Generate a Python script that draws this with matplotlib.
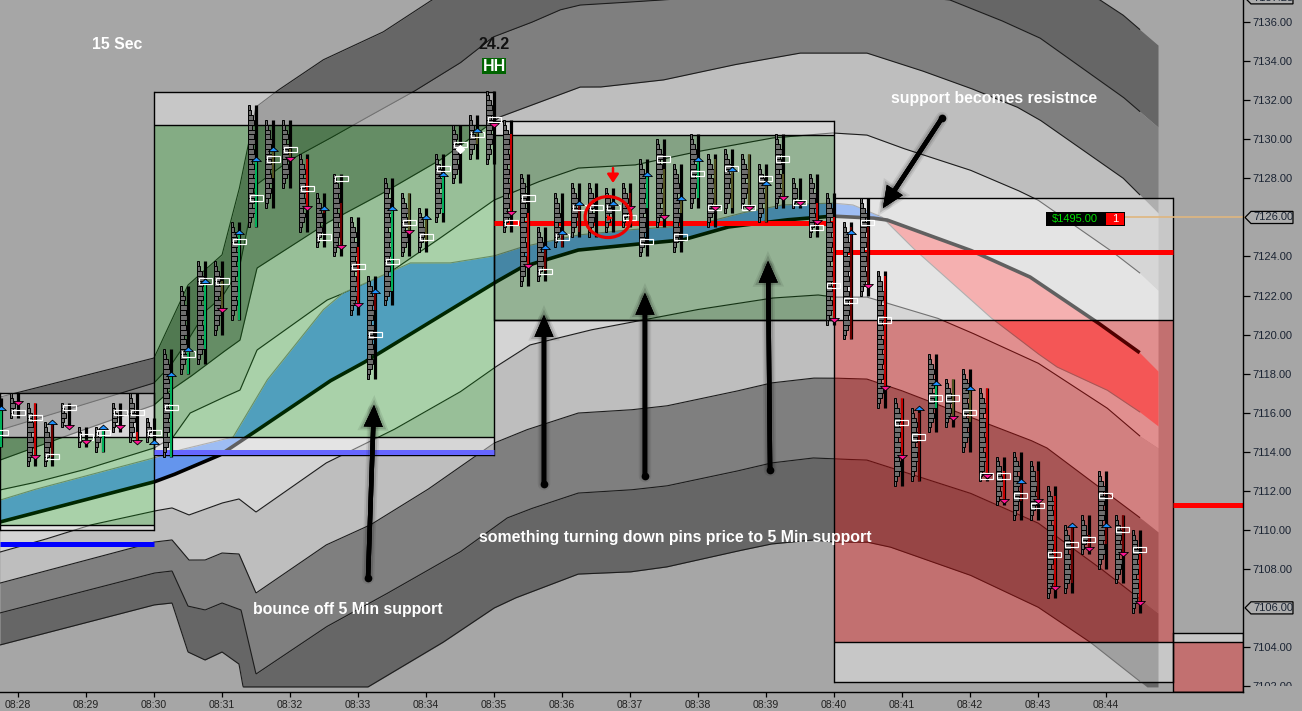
import numpy as np
import matplotlib
matplotlib.use("Agg")
import matplotlib.pyplot as plt
from matplotlib.patches import Rectangle, Ellipse, Polygon, FancyArrowPatch
from matplotlib.transforms import Bbox, TransformedBbox
import matplotlib.patheffects as pe

plt.rcParams['font.family'] = ['Liberation Sans', 'DejaVu Sans']

# ---------- band lines: bar index (15 s bars, 0 = 08:28:00) and price ----------
U1_T = [-1.06, 8, 10, 12, 13, 14, 15.24, 17.94, 21.47, 24.35, 28, 36, 48, 57.76, 63.65, 65, 67.06]
U1_P = [7116.80, 7118.80, 7122.54, 7124.08, 7127.41, 7131.66, 7132.48, 7134.07, 7135.50, 7137.14, 7138.27, 7140.2, 7139.96, 7139.19, 7137.14, 7136.37, 7134.83]
U2_T = [-1.06, 8, 9, 10, 11.1, 12, 13, 14, 16, 18.18, 19.94, 23.24, 26, 27.94, 30.12, 31.88, 33.06, 34.24, 37.94, 43.65, 50.12, 54.82, 57.76, 60.12, 65, 67.06]
U2_P = [7115.11, 7117.52, 7118.44, 7119.72, 7121.26, 7121.92, 7123.31, 7127.66, 7128.94, 7129.97, 7130.84, 7132.43, 7133.91, 7135.24, 7135.96, 7136.63, 7136.88, 7136.94, 7137.14, 7137.55, 7137.55, 7137.14, 7136.12, 7135.19, 7132.17, 7130.63]
U3_T = [-1.06, 2.65, 8, 9, 10.12, 12, 13.06, 14.06, 18.18, 21.47, 24.82, 28.35, 33.06, 34.24, 37.94, 42.06, 46, 49.94, 53.06, 56, 58.76, 60.12, 65, 67.06]
U3_P = [7113.57, 7114.75, 7116.39, 7117.16, 7117.83, 7119.06, 7119.72, 7123.41, 7125.72, 7127.25, 7128.94, 7131.15, 7132.68, 7132.68, 7133.04, 7133.81, 7134.42, 7134.42, 7133.55, 7132.63, 7131.66, 7130.99, 7128.02, 7126.23]
U4_T = [-1.06, 0.88, 3.82, 8, 9.12, 10.12, 12, 13.06, 14.06, 18.18, 21.47, 24.41, 28, 30.59, 32.94, 36.29, 39.82, 44.35, 47.88, 49.94, 52, 56, 58.76, 60, 64.24, 66, 67.06]
U4_P = [7112.04, 7112.40, 7113.06, 7114.19, 7114.75, 7115.98, 7116.75, 7117.16, 7119.21, 7121.77, 7122.95, 7124.69, 7126.89, 7127.82, 7128.53, 7128.69, 7129.35, 7130.07, 7130.33, 7130.22, 7129.56, 7128.43, 7127.41, 7126.89, 7124.33, 7123.15, 7122.28]
L5_T = [-1.06, 1.47, 4.24, 8, 9.06, 10.06, 12, 13, 14, 18.12, 22.06, 26, 28, 30.12, 33.65, 39.82, 44.35, 47.06, 48, 49.94, 54.06, 56, 60, 64.06, 66, 67.06]
L5_P = [7108.86, 7109.48, 7110.24, 7110.96, 7111.12, 7110.76, 7111.37, 7111.58, 7110.91, 7113.42, 7115.11, 7117.06, 7118.29, 7119.47, 7120.23, 7121.26, 7121.87, 7122.03, 7121.92, 7121.92, 7120.85, 7120.13, 7118.54, 7116.24, 7114.80, 7114.19]
L6_T = [-1.06, 8, 9.06, 10.06, 11, 12, 13, 14, 18.12, 20.71, 24.06, 28, 29.88, 32.94, 36, 38.12, 42.06, 44.29, 46.76, 48, 49.94, 51.88, 56, 59.53, 60.53, 66.18, 67.06]
L6_P = [7107.27, 7109.37, 7109.48, 7108.45, 7108.45, 7108.81, 7108.76, 7106.76, 7109.22, 7110.24, 7112.04, 7114.44, 7115.11, 7115.98, 7116.14, 7116.34, 7117.06, 7117.52, 7117.77, 7117.77, 7117.72, 7117.16, 7115.78, 7114.60, 7114.19, 7110.50, 7109.89]
L7_T = [-1.06, 8, 9.06, 10, 11, 12, 13.12, 14, 18.12, 21.35, 26, 28.76, 30.12, 32.94, 36, 38.12, 42.06, 44.29, 46.76, 48.06, 49.94, 56, 60, 63.65, 67.06]
L7_P = [7105.74, 7107.78, 7107.89, 7106.09, 7105.89, 7106.25, 7105.89, 7102.61, 7105.02, 7106.56, 7108.86, 7110.60, 7111.06, 7111.88, 7112.04, 7112.24, 7112.96, 7113.42, 7113.68, 7113.63, 7113.57, 7111.88, 7110.35, 7108.04, 7105.74]
L8_T = [-1.06, 8, 9.06, 10, 11, 12, 13, 13.24, 20.59, 24.94, 28, 29.24, 32.94, 36, 38.12, 42.06, 44.29, 46.76, 48, 49.94, 51.29, 56, 60, 63.06, 66.41, 67.06]
L8_P = [7104.10, 7106.15, 7106.25, 7103.74, 7103.33, 7103.74, 7103.12, 7101.95, 7101.95, 7104.20, 7105.99, 7106.50, 7107.73, 7107.84, 7108.09, 7108.86, 7109.27, 7109.48, 7109.37, 7109.37, 7109.12, 7107.68, 7106.04, 7104.25, 7101.95, 7101.95]
RIB_T = [-1.06, 0.88, 8, 9.53, 12.65, 14.65, 17.94, 19.12, 23.06, 25.41, 28, 29.65, 32.94, 35.88, 39.82, 42.59, 44.94, 47.88, 49.12, 50.82, 52.65, 57.18, 59.94, 61.12, 64.06, 66, 67.06]
RIB_P = [7111.52, 7112.04, 7113.68, 7114.09, 7114.75, 7117.67, 7121.26, 7122.13, 7123.67, 7123.67, 7124.03, 7124.49, 7125.10, 7125.36, 7125.61, 7126.23, 7126.64, 7126.74, 7126.64, 7126.02, 7124.43, 7120.90, 7119.06, 7118.34, 7117.16, 7116.03, 7115.32]
MID_T = [-1.06, 8, 9.12, 11.88, 13.47, 18.35, 20.29, 28, 29.65, 32.94, 35.88, 39.06, 41.76, 45.12, 47.88, 50.29, 51.12, 56, 59.53, 63.47, 66, 67.06]
MID_P = [7110.40, 7112.45, 7112.81, 7113.83, 7114.75, 7117.62, 7118.54, 7122.64, 7123.46, 7124.33, 7124.59, 7124.84, 7125.51, 7125.87, 7126.07, 7125.97, 7125.87, 7124.33, 7122.95, 7120.64, 7119.06, 7118.13]

# ---------- 15 s bars ----------
BAR_I = list(range(-1, 67))
BAR_HI = [7116.75,7117,7116.5,7115.5,7116.5,7115.25,7115.25,7116.5,7117,7115.75,
          7119.25,7122.5,7123.75,7123.75,7125.75,7131.75,7131,7131,7129.25,7127.25,
          7128.25,7126,7123,7128,7127.25,7126.5,7129.25,7130.75,7131.25,7132.5,
          7131,7128.25,7125.5,7127.25,7127.75,7127.75,7127.5,7127.75,7129,7130,
          7128.75,7130.25,7129.25,7129.5,7129.25,7128.75,7130.25,7128,7128.25,7127.25,
          7125.75,7127,7123.25,7116.75,7116.25,7119,7117.75,7118.25,7117.25,7113.75,
          7114,7113.5,7112.25,7110.25,7110.75,7113,7110.75,7110]
BAR_LO = [7114.25,7115.75,7113.25,7113.25,7115.25,7114.25,7114,7115,7114.5,7114.5,
          7113.75,7118,7118.5,7120,7120.75,7125.5,7126.5,7127.5,7125.25,7124.5,
          7124,7121,7117.75,7121.5,7124,7124.25,7125.75,7127.75,7129,7128.75,
          7125.25,7122.5,7122.75,7124.5,7125,7125,7125.25,7125.5,7124,7125.5,
          7124.25,7126.5,7125.5,7126.25,7126.5,7125.75,7126.5,7126.5,7125,7120.5,
          7119.75,7122,7116.25,7112.25,7112.5,7115,7115.25,7114,7112.5,7111.25,
          7110.5,7110.5,7106.5,7106.75,7108.75,7108,7107.25,7105.75]
BODY_TOP = [7116.25,0,7116.5,7115.5,0,0,7115.25,0,7115,0,
            7118,7119.25,7122.75,7122.75,7125.25,7129,7129.5,7129.5,7129,7126.5,
            7126.75,7124.5,7122.25,7126.5,7127.25,7126,7128.25,0,7130.5,0,
            7130.25,7126.25,7124.5,7125.25,7126.75,0,0,7127.25,7128.25,7128.5,
            7127,7129,7129,7128.5,7129.25,7127.75,7128.25,0,7126.75,7126,
            7125.5,7125.5,7123,7116.75,7116,7117.5,7117.75,7117.25,7117.25,7113,
            7112.5,7113,7111.75,7110.25,7109.75,7110.25,7110.75,7108.75]
BODY_BOT = [7114.25,0,7113.75,7113.75,0,0,7114,0,7114.5,0,
            7113.75,7118,7119.25,7121.25,7120.75,7125.5,7128,7129,7126.5,7126.25,
            7124.5,7121.5,7121.25,7122.25,7125.25,7124.75,7126.25,0,7129.75,0,
            7126.25,7123.5,7123.25,7124.5,7125.25,0,0,7126.5,7126.5,7126,
            7126.25,7127,7126.5,7126.5,7126.5,7125.75,7127,0,7125.75,7120.75,
            7119.75,7122.5,7117.25,7113.75,7112.5,7116.25,7115.75,7115.5,7112.75,7111.5,
            7111.5,7111.5,7107,7107.25,7109,7109.25,7108.75,7106.25]
BODY_KIND = list("LNRDNNLNRN" "LLLOLLOORD" "DRDLOOLNON" "RRDDDNNDLO" "OLOOOOONRR" "DDRRDLOORR" "DDRDDDDR")
TRI_DIR = ['u','d','d','u','d','d','u','d','d','u',
           'u','u','u','d','u','u','u','d','d','u',
           'd','d','u','u','d','u','u','','u','d',
           'd','d','u','u','u','','u','d','u','d',
           'u','u','d','u','d','u','d','d','d','d',
           'u','d','d','d','u','u','d','u','d','d',
           'u','d','d','u','d','u','d','d']
TRI_P = [7116.25,7116.5,7113.75,7115.5,7115.25,7114.5,7115.25,7115.25,7114.5,7114.5,
         7118,7119.25,7122.75,7121.25,7125.25,7129,7129.5,7129,7126.5,7126.5,
         7124.5,7121.5,7122.25,7126.5,7125.25,7126,7128.25,0,7130.5,7130.75,
         7126.25,7123.5,7124.5,7125.25,7126.75,0,7126.75,7126.5,7128.25,7126,
         7127,7129,7126.5,7128.5,7126.5,7127.75,7127,7126.75,7125.75,7120.75,
         7125.25,7122.5,7117.25,7113.75,7116.25,7117.5,7115.75,7117.25,7112.75,7111.5,
         7112.5,7111.5,7107,7110.25,7109,7110.25,7108.75,7106.25]
POC_P = [7115,7116,7115.75,7113.75,7116.25,7114.75,7115,7116,7116,7115,
         7116.25,7119,7122.75,7122.75,7124.75,7127,7129,7129.5,7127.5,7125,
         7128,7123.5,7120,7123.75,7125.75,7125,7128.5,7129.75,7130.25,7131,
         7125.75,7127,7123.25,7125,7126.5,7126.5,7126.5,7126,7124.75,7129,
         7125,7128.25,7126.5,7128.5,7126.5,7128,7129,7126.75,7125.5,7122.5,
         7121.75,7125.75,7120.75,7115.5,7114.75,7116.75,7116.75,7116,7112.75,7112.75,
         7111.75,7111.25,7108.75,7109.25,7109.5,7111.75,7110,7109]
CELL_PX = [6, 7, 5, 7, 6, 4, 7, 6, 5, 7, 6, 7, 4, 6, 7, 5]

# ---------- levels and labels ----------
Y_TICKS = [7102,7104,7108,7110,7112,7114,7116,7118,7120,7122,7124,7128,7130,7132,7134,7136]
TAG_PRICES = [7137.25, 7126.00, 7106.00]
X_TICKS = list(range(0, 65, 4))
X_LABELS = ['08:%02d' % m for m in range(28, 45)]

X0, X1, Y0, Y1 = -1.06, 72.06, 7101.69, 7137.14
PX_I = 1 / 17.0

fig = plt.figure(figsize=(13.02, 7.11), dpi=100, facecolor='#a6a6a6')
ax = fig.add_axes([0, 19 / 711, 1243 / 1302, 692 / 711], facecolor='#a6a6a6')
ax.set_xlim(X0, X1)
ax.set_ylim(Y0, Y1)

grid = np.linspace(-1.06, 67.06, 2400)
def series(t, p):
    return np.interp(grid, t, p)

lines = [series(*a) for a in [(U1_T,U1_P),(U2_T,U2_P),(U3_T,U3_P),(U4_T,U4_P),
                              (L5_T,L5_P),(L6_T,L6_P),(L7_T,L7_P),(L8_T,L8_P)]]
band_cols = ['#666666', '#7f7f7f', '#bebebe', '#d4d4d4', '#bebebe', '#7f7f7f', '#666666']
for k, col in enumerate(band_cols):
    ax.fill_between(grid, lines[k + 1], lines[k], color=col, lw=0, zorder=1)
mask = grid <= 66
for ln in lines:
    ax.plot(grid[mask], ln[mask], color='#1c1c1c', lw=0.8, zorder=1.5)

rib = series(RIB_T, RIB_P)
mid = series(MID_T, MID_P)
ax.fill_between(grid, mid, rib, where=rib >= mid, color='#6495ed', lw=0, zorder=2, interpolate=True)
ax.fill_between(grid, mid, rib, where=rib < mid, color='#f08080', lw=0, zorder=2, interpolate=True)
ax.plot(grid[mask], rib[mask], color='#808080', lw=0.8, zorder=2.2)
ax.plot(grid[mask], mid[mask], color='black', lw=2.6, zorder=2.5, solid_capstyle='butt')

def overlay(x0, x1, y0, y1, col, a):
    ax.add_patch(Rectangle((x0, y0), x1 - x0, y1 - y0, fc=col, alpha=a, lw=0, zorder=3))

WHITE, GREEN, DKGREEN, RED = '#ffffff', (0, 200 / 255, 0), (0, 100 / 255, 0), '#ff0000'
boxes = [(X0, 8, 7117.01, 7114.75, 7110.24, 7109.99, GREEN, .2),
         (8, 28, 7132.43, 7130.74, 7114.75, 7113.83, GREEN, .2),
         (28, 48, 7130.94, 7130.22, 7120.75, 7120.75, DKGREEN, .3),
         (48, 67.94, 7127.00, 7120.75, 7104.25, 7102.20, RED, .32),
         (67.94, X1, 7104.71, 7104.25, Y0, Y0, RED, .32)]
for x0, x1, top, it, ib, bot, col, a in boxes:
    overlay(x0, x1, it, top, WHITE, .38)
    overlay(x0, x1, ib, it, col, a)
    if bot < ib:
        overlay(x0, x1, bot, ib, WHITE, .38)
    for y in (top, it, ib, bot):
        ax.plot([x0, x1], [y, y], color='black', lw=1, zorder=3.2, solid_capstyle='butt')
    ax.plot([x0, x0], [bot, top], color='black', lw=1, zorder=3.2)
    ax.plot([x1, x1], [bot, top], color='black', lw=1, zorder=3.2)

for x0, x1, y, col in [(X0, 8, 7109.27, '#0000ff'), (8, 28, 7113.98, '#6666ff'),
                       (28, 48, 7125.72, '#ff0000'), (48, 67.94, 7124.23, '#ff0000'),
                       (67.94, X1, 7111.27, '#ff0000')]:
    ax.plot([x0, x1], [y, y], color=col, lw=3.6, zorder=3.5, solid_capstyle='butt')

# bars
BODY_COL = {'L': '#00e676', 'R': '#ff0000', 'D': '#8b0000', 'O': '#6b6b2a'}
cell_y, cell_w, cell_l = [], [], []
idx = 0
for i, hi, lo in zip(BAR_I, BAR_HI, BAR_LO):
    pr = np.arange(lo, hi, 0.25)
    n = len(pr)
    for k, p in enumerate(pr):
        d = min(k, n - 1 - k)
        w = 2 if d < 1 else (3 if d < 2 else (5 if d < 3 else CELL_PX[idx % len(CELL_PX)]))
        idx += 1
        cell_y.append(p + 0.125); cell_w.append(w * PX_I); cell_l.append(i - 8 * PX_I)
ax.barh(cell_y, cell_w, left=cell_l, height=0.25, color='#6e6e6e', edgecolor='black', lw=0.7, zorder=5)
ax.vlines(BAR_I, BAR_LO, BAR_HI, color='black', lw=2.3, zorder=5.2, capstyle='butt')
for i, t, b, k in zip(BAR_I, BODY_TOP, BODY_BOT, BODY_KIND):
    if k in BODY_COL and t > b:
        ax.vlines(i, b, t, color=BODY_COL[k], lw=1.1, zorder=5.3, capstyle='butt')

ax.bar(BAR_I, [0.27] * len(BAR_I), bottom=[p - 0.135 for p in POC_P],
       width=13 * PX_I, align='center', facecolor='none', edgecolor='white', lw=0.85, zorder=5.5)

up_v = [(-1, -.42), (1, -.42), (0, .48), (-1, -.42)]
dn_v = [(-1, .42), (1, .42), (0, -.48), (-1, .42)]
ui = [(i, p) for i, p, d in zip(BAR_I, TRI_P, TRI_DIR) if d == 'u']
di = [(i, p) for i, p, d in zip(BAR_I, TRI_P, TRI_DIR) if d == 'd']
ax.scatter(*zip(*ui), marker=up_v, s=50, color='#1e90ff', edgecolor='black', lw=0.6, zorder=6)
ax.scatter(*zip(*di), marker=dn_v, s=50, color='#ff1493', edgecolor='black', lw=0.6, zorder=6)
ax.plot([26], [7129.5], marker='D', ms=4.5, color='white', zorder=6)

# arrows
glow = [pe.withStroke(linewidth=9, foreground='black', alpha=.08),
        pe.withStroke(linewidth=6.5, foreground='black', alpha=.14), pe.Normal()]
ARROWS = [((20.59, 7107.53), (20.94, 7116.39)), ((30.94, 7112.34), (30.94, 7121.0)),
          ((36.88, 7112.75), (36.88, 7122.13)), ((44.24, 7113.06), (44.12, 7123.77)),
          ((54.35, 7131.09), (50.88, 7126.48))]
for a, b in ARROWS:
    ax.add_patch(FancyArrowPatch(a, b, arrowstyle='-|>,head_length=10,head_width=4.4', mutation_scale=1,
                                 lw=3.2, color='black', shrinkA=0, shrinkB=0, zorder=7, path_effects=glow,
                                 joinstyle='miter'))
    ax.plot(*a, 'o', color='black', ms=5.5, mew=0, zorder=7.1)
ax.add_patch(FancyArrowPatch((35, 7128.53), (35, 7127.77), arrowstyle='-|>,head_length=5,head_width=3.4',
                             mutation_scale=1, lw=1.8, color='#ff0000', shrinkA=0, shrinkB=0, zorder=7))
ax.add_patch(Ellipse((34.71, 7126.02), 2.7, 2.1, fill=False, ec='#ee0000', lw=2.3, zorder=7))
ax.plot([34.82], [7125.97], marker='>', ms=4.5, color='#ff0000', mew=0, zorder=7)

# text
for x, y, s in [(4.35, 7134.87, '15 Sec'), (13.82, 7105.94, 'bounce off 5 Min support'),
                (27.12, 7109.63, 'something turning down pins price to 5 Min support'),
                (51.35, 7132.1, 'support becomes resistnce')]:
    ax.text(x, y, s, color='white', fontweight='bold', fontsize=11.45, va='center', ha='left', zorder=8)
ax.text(28, 7134.87, '24.2', color='#111111', fontsize=11.5, fontweight='bold', ha='center', va='center', zorder=8)
ax.add_patch(Rectangle((27.29, 7133.35), 1.42, 0.82, fc='#006400', lw=0, zorder=8))
ax.text(28, 7133.75, 'HH', color='white', fontweight='bold', fontsize=11.5, ha='center', va='center', zorder=9)

# position box
ax.plot([65.12, 72.18], [7126, 7126], color='#dfb67f', lw=1.2, zorder=8, clip_on=False)
ax.add_patch(Rectangle((60.47, 7125.56), 4.65, 0.72, fc='black', lw=0, zorder=8))
ax.add_patch(Rectangle((64.0, 7125.62), 1.06, 0.6, fc='#ff0000', lw=0, zorder=8.5))
ax.text(62.15, 7125.93, '$1495.00', color='#00e000', fontsize=8, ha='center', va='center', zorder=9)
ax.text(64.53, 7125.93, '1', color='white', fontsize=8, ha='center', va='center', zorder=9)

# axes
for s in ('top', 'left'):
    ax.spines[s].set_visible(False)
for s in ('right', 'bottom'):
    ax.spines[s].set_color('black')
    ax.spines[s].set_linewidth(1)
    ax.spines[s].set_zorder(10)
ax.yaxis.tick_right()
ax.set_yticks(Y_TICKS, ['%.2f' % v for v in Y_TICKS], fontsize=8, color='#1b2433')
ax.set_xticks(X_TICKS, X_LABELS, fontsize=7.6, color='#222222')
ax.tick_params(axis='y', length=5, width=0.9, pad=2, color='black')
ax.tick_params(axis='x', length=3.5, width=0.9, pad=2, color='black')
clip = TransformedBbox(Bbox([[0, 0.0087], [1.1, 1]]), ax.transAxes)
for lab in ax.get_yticklabels():
    lab.set_clip_box(clip)
    lab.set_clip_on(True)

for p in TAG_PRICES:
    i0, i1, i2 = 72.18, 72.53, 75.0
    d = 0.31
    ax.add_patch(Polygon([(i0, p), (i1, p + d), (i2, p + d), (i2, p - d), (i1, p - d)], closed=True,
                         fc='#adadad', ec='black', lw=0.9, clip_on=False, zorder=9))
    ax.text(73.85, p, '%.2f' % p, fontsize=8, color='#1b2433', ha='center', va='center', zorder=10, clip_on=False)

fig.savefig('out.png', dpi=100, facecolor=fig.get_facecolor())
